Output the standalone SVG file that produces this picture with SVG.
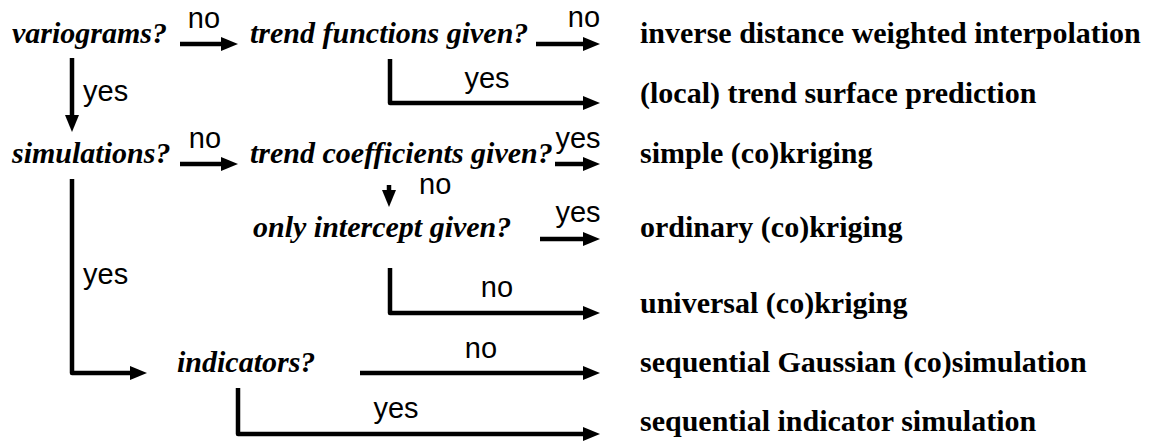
<svg xmlns="http://www.w3.org/2000/svg" width="1157" height="443" viewBox="0 0 1157 443">
<style>
.q{font-family:"Liberation Serif","Times New Roman",serif;font-style:italic;font-weight:bold;font-size:30px;fill:#000}
.r{font-family:"Liberation Serif","Times New Roman",serif;font-weight:bold;font-size:30px;fill:#000}
.l{font-family:"Liberation Sans",Arial,sans-serif;font-size:29px;fill:#000}
.c{fill:none;stroke:#000;stroke-width:4.5;stroke-linejoin:round;marker-end:url(#ah)}
</style>
<defs>
<marker id="ah" markerUnits="userSpaceOnUse" markerWidth="17" markerHeight="14" refX="1" refY="7" orient="auto">
<path d="M0,0 L17,7 L0,14 z" fill="#000"/>
</marker>
</defs>
<rect width="1157" height="443" fill="#fff"/>
<g id="connectors">
<path class="c" d="M180,44 H222"/>
<path class="c" d="M536,44 H584"/>
<path class="c" d="M72,58 V116"/>
<path class="c" d="M390,59 V103 H584"/>
<path class="c" d="M180,164 H222"/>
<path class="c" d="M555,164 H584"/>
<path class="c" d="M389,185 V191"/>
<path class="c" d="M540,239 H584"/>
<path class="c" d="M390,268 V313 H584"/>
<path class="c" d="M72,179 V373 H131"/>
<path class="c" d="M360,373 H584"/>
<path class="c" d="M238,388 V434 H584"/>
</g>
<g id="labels">
<text class="l" x="204" y="28" text-anchor="middle">no</text>
<text class="l" x="584" y="27" text-anchor="middle">no</text>
<text class="l" x="83" y="101">yes</text>
<text class="l" x="487" y="88" text-anchor="middle">yes</text>
<text class="l" x="205" y="148" text-anchor="middle">no</text>
<text class="l" x="578" y="148" text-anchor="middle">yes</text>
<text class="l" x="419" y="194">no</text>
<text class="l" x="578" y="222" text-anchor="middle">yes</text>
<text class="l" x="83" y="284">yes</text>
<text class="l" x="497" y="297" text-anchor="middle">no</text>
<text class="l" x="481" y="358" text-anchor="middle">no</text>
<text class="l" x="396" y="418" text-anchor="middle">yes</text>
</g>
<g id="variograms"><text class="q" x="12" y="43">variograms?</text></g>
<g id="trend-functions"><text class="q" x="250" y="43">trend functions given?</text></g>
<g id="simulations"><text class="q" x="12" y="163">simulations?</text></g>
<g id="trend-coefficients"><text class="q" x="250" y="163">trend coefficients given?</text></g>
<g id="only-intercept"><text class="q" x="253" y="237">only intercept given?</text></g>
<g id="indicators"><text class="q" x="177" y="372">indicators?</text></g>
<g id="idw"><text class="r" x="640" y="43">inverse distance weighted interpolation</text></g>
<g id="trend-surface"><text class="r" x="640" y="103">(local) trend surface prediction</text></g>
<g id="simple-kriging"><text class="r" x="640" y="163">simple (co)kriging</text></g>
<g id="ordinary-kriging"><text class="r" x="640" y="237">ordinary (co)kriging</text></g>
<g id="universal-kriging"><text class="r" x="640" y="313">universal (co)kriging</text></g>
<g id="sgs"><text class="r" x="640" y="372">sequential Gaussian (co)simulation</text></g>
<g id="sis"><text class="r" x="640" y="431">sequential indicator simulation</text></g>
</svg>
